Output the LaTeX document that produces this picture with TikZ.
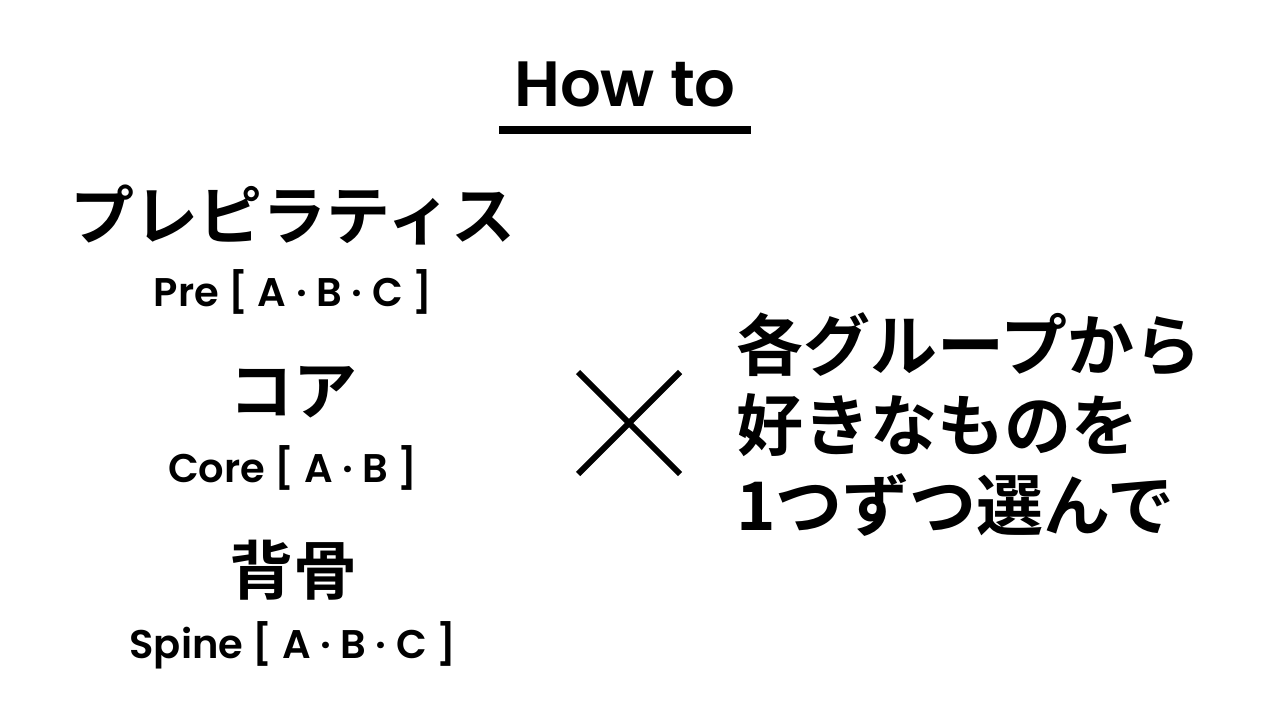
\documentclass[tikz,border=0pt]{standalone}
\usepackage{fontspec}
\setmainfont{Poppins}[BoldFont=* SemiBold]
\newfontfamily\jp{Noto Sans CJK JP Bold}
\begin{document}
\begin{tikzpicture}[x=1pt,y=-1pt,
  jpl/.style={font=\jp\fontsize{64}{70}\selectfont,inner sep=0},
  lat/.style={font=\bfseries\fontsize{40}{44}\selectfont,inner sep=0},
  jpr/.style={font=\jp\fontsize{67}{80}\selectfont,inner sep=0,anchor=west}]
\useasboundingbox[fill=white] (0,0) rectangle (1280,720);
\node[font=\bfseries\fontsize{64}{70}\selectfont,inner sep=0] (how) at (625,84) {How to};
\draw[line width=8] (499,130) -- (751,130);
\node[jpl] (t1) at (293,215) {プレピラティス};
\node[lat] (s1) at (293,292) {Pre [ A · B · C ]};
\node[jpl] (t2) at (293,392) {コア};
\node[lat] (s2) at (293,468) {Core [ A · B ]};
\node[jpl] (t3) at (293,570) {背骨};
\node[lat] (s3) at (293,645) {Spine [ A · B · C ]};
\draw[line width=6] (578,372) -- (680,474) (680,372) -- (578,474);
\node[jpr] (r1) at (736,345) {各グループから};
\node[jpr] (r2) at (736,425) {好きなものを};
\node[jpr] (r3) at (736,505) {1つずつ選んで};
\end{tikzpicture}
\end{document}
